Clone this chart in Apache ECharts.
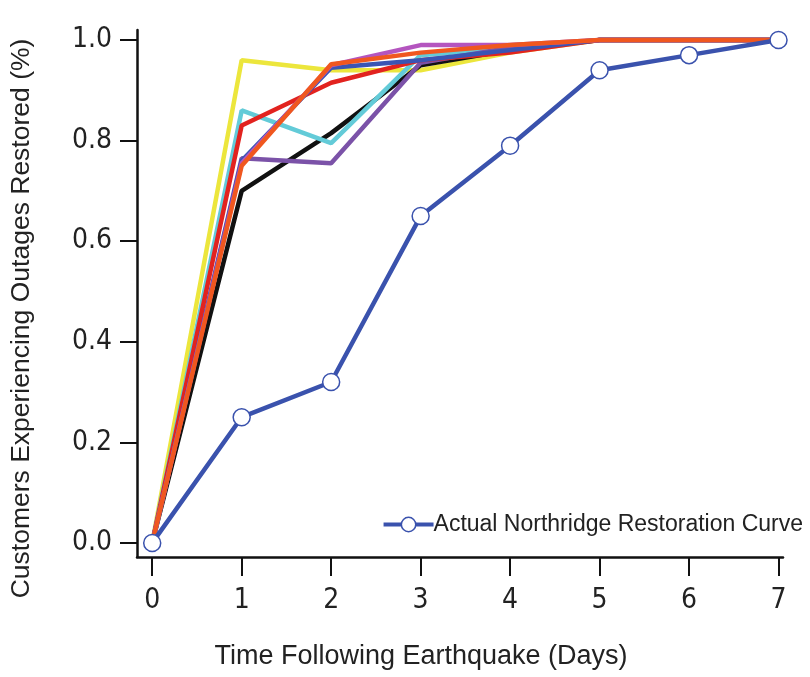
<!DOCTYPE html>
<html>
<head>
<meta charset="utf-8">
<script src="https://cdn.jsdelivr.net/npm/echarts@6/dist/echarts.min.js"></script>
<style>
  html, body { margin: 0; padding: 0; background: #fff; }
  #chart { width: 810px; height: 677px; }
</style>
</head>
<body>
<div id="chart"></div>
<script>
// days after the quake
const days = [0, 1, 2, 3, 4, 5, 6, 7];
const xTicks = [0, 1, 2, 3, 4, 5, 6, 7];
const yTicks = [0, 0.2, 0.4, 0.6, 0.8, 1.0];

// simulated restoration curves (fraction restored)
const yellowCurve = [0, 0.96, 0.94, 0.94, 0.975, 1, 1, 1];
const blackCurve = [0, 0.70, 0.815, 0.95, 0.98, 1, 1, 1];
const cyanCurve = [0, 0.86, 0.795, 0.97, 0.985, 1, 1, 1];
const purpleCurve = [0, 0.765, 0.755, 0.955, 0.985, 1, 1, 1];
const redCurve = [0, 0.83, 0.915, 0.96, 0.975, 1, 1, 1];
const blueCurve = [0, 0.76, 0.945, 0.96, 0.98, 1, 1, 1];
const magentaCurve = [0, 0.755, 0.95, 0.99, 0.99, 1, 1, 1];
const orangeCurve = [0, 0.75, 0.952, 0.975, 0.99, 1, 1, 1];
// observed
const northridge = [0, 0.25, 0.32, 0.65, 0.79, 0.94, 0.97, 1.0];

const font = "Liberation Sans, Arial, sans-serif";
const narrowFont = "Liberation Sans Narrow, Arial Narrow, DejaVu Sans Condensed, sans-serif";

function pairs(vals) {
  return days.map((d, i) => [d, vals[i]]);
}

function plainLine(name, vals, color) {
  return {
    name: name,
    type: "line",
    data: pairs(vals),
    showSymbol: false,
    symbol: "none",
    lineStyle: { color: color, width: 4.5 },
    itemStyle: { color: color },
    silent: true,
  };
}

const chart = echarts.init(document.getElementById("chart"));

const option = {
  backgroundColor: "#fff",
  animation: false,
  grid: { left: 137, right: 27, top: 30, bottom: 120 },
  legend: {
    data: ["Actual Northridge Restoration Curve"],
    right: 2,
    top: 508,
    itemWidth: 50,
    itemHeight: 18,
    itemGap: 0,
    lineStyle: { width: 4 },
    itemStyle: { borderWidth: 1.5 },
    textStyle: { fontFamily: font, fontSize: 23, color: "#222", padding: [0, 0, 0, -5] },
  },
  xAxis: {
    type: "value",
    min: -0.17,
    max: 7.05,
    name: "Time Following Earthquake (Days)",
    nameLocation: "middle",
    nameGap: 86,
    nameTextStyle: { fontFamily: font, fontSize: 27, color: "#222", padding: [0, 78, 0, 0] },
    axisLine: { show: true, onZero: false, lineStyle: { color: "#111", width: 2.5 } },
    axisTick: { show: true, customValues: xTicks, length: 19, lineStyle: { color: "#111", width: 2 } },
    axisLabel: {
      customValues: xTicks,
      margin: 30,
      fontFamily: narrowFont,
      fontSize: 28,
      color: "#222",
    },
    splitLine: { show: false },
  },
  yAxis: {
    type: "value",
    min: -0.028,
    max: 1.02,
    name: "Customers Experiencing Outages Restored (%)",
    nameLocation: "middle",
    nameGap: 102,
    nameTextStyle: { fontFamily: font, fontSize: 26.5, color: "#222", padding: [0, 50, 0, 0] },
    axisLine: { show: true, onZero: false, lineStyle: { color: "#111", width: 2.5 } },
    axisTick: { show: true, customValues: yTicks, length: 17, lineStyle: { color: "#111", width: 2 } },
    axisLabel: {
      customValues: yTicks,
      margin: 25,
      fontFamily: narrowFont,
      fontSize: 28,
      color: "#222",
      formatter: (v) => v.toFixed(1),
    },
    splitLine: { show: false },
  },
  series: [
    plainLine("yellow", yellowCurve, "#ece63c"),
    plainLine("black", blackCurve, "#111111"),
    plainLine("cyan", cyanCurve, "#63cbd8"),
    plainLine("purple", purpleCurve, "#7b52a8"),
    plainLine("red", redCurve, "#e2231f"),
    plainLine("blue", blueCurve, "#3a55b4"),
    plainLine("magenta", magentaCurve, "#b455bf"),
    plainLine("orange", orangeCurve, "#f0571f"),
    {
      name: "Actual Northridge Restoration Curve",
      type: "line",
      data: pairs(northridge),
      symbol: "circle",
      symbolSize: 17,
      showAllSymbol: true,
      lineStyle: { color: "#3a52ad", width: 4.5 },
      itemStyle: { color: "#fff", borderColor: "#3a52ad", borderWidth: 1.5 },
      z: 5,
    },
  ],
};

chart.setOption(option);
</script>
</body>
</html>
